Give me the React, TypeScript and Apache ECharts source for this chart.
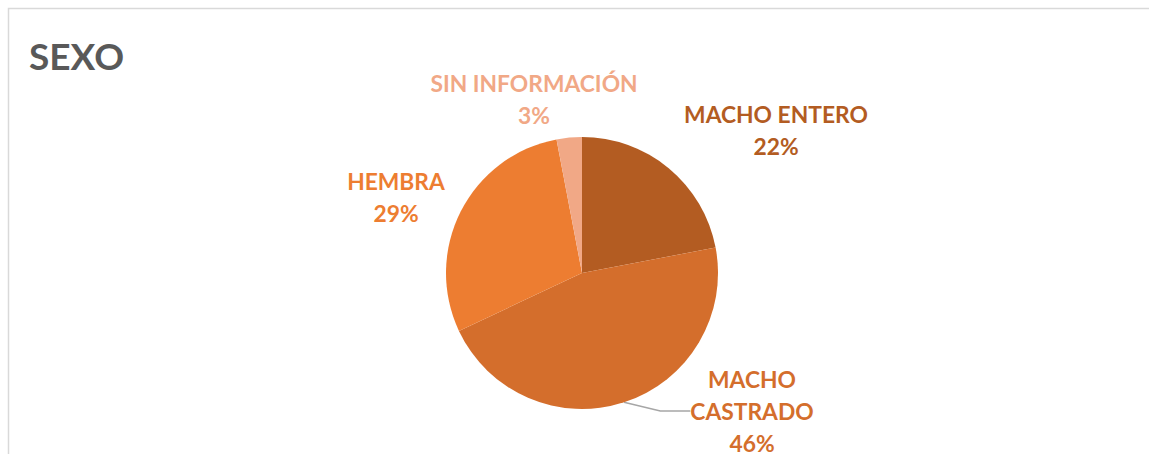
import React, { useEffect, useRef } from "react";
import * as echarts from "echarts";

const categories = ["MACHO ENTERO", "MACHO CASTRADO", "HEMBRA", "SIN INFORMACIÓN"];
const values = [22, 46, 29, 3];
const colors = ["#B35C22", "#D46E2C", "#ED7D31", "#F1A886"];
// label centre positions (px) per slice
const labelPos: [number, number][] = [
  [776, 130],
  [752, 411],
  [396, 197],
  [534, 99],
];

export default function App() {
  const ref = useRef<HTMLDivElement>(null);
  useEffect(() => {
    if (!ref.current) return;
    const chart = echarts.init(ref.current, null, { renderer: "svg" });
    chart.setOption({
      animation: false,
      backgroundColor: "#ffffff",
      title: {
        text: "SEXO",
        left: 24,
        top: 32,
        textStyle: {
          fontFamily: "Lato",
          fontWeight: "bold",
          fontSize: 37,
          color: "#595959",
        },
      },
      graphic: [
        {
          type: "rect",
          shape: { x: 8.5, y: 8.5, width: 1300, height: 600 },
          style: { fill: "none", stroke: "#D9D9D9", lineWidth: 1.5 },
          silent: true,
          z: -1,
        },
      ],
      series: [
        {
          type: "pie",
          center: [582, 273],
          radius: 136,
          startAngle: 90,
          clockwise: true,
          data: categories.map((c, i) => ({
            name: c,
            value: values[i],
            itemStyle: { color: colors[i] },
            label: { color: colors[i] },
            labelLine: { show: i === 1 },
          })),
          label: {
            show: true,
            position: "outside",
            formatter: (p: any) => `${p.name.replace("MACHO CASTRADO", "MACHO\nCASTRADO")}\n${Math.round(p.percent)}%`,
            fontFamily: "Lato",
            fontWeight: "bold",
            fontSize: 22.8,
            lineHeight: 32,
            align: "center",
          },
          labelLine: {
            show: false,
            lineStyle: { color: "#A6A6A6", width: 1.5 },
          },
          labelLayout: (p: any) => {
            const pos = labelPos[p.dataIndex];
            return { x: pos[0], y: pos[1], align: "center", verticalAlign: "middle" };
          },
        },
      ],
    });
    return () => chart.dispose();
  }, []);
  return (
    <div
      ref={ref}
      style={{ position: "fixed", left: 0, top: 0, width: 1149, height: 454 }}
    />
  );
}
